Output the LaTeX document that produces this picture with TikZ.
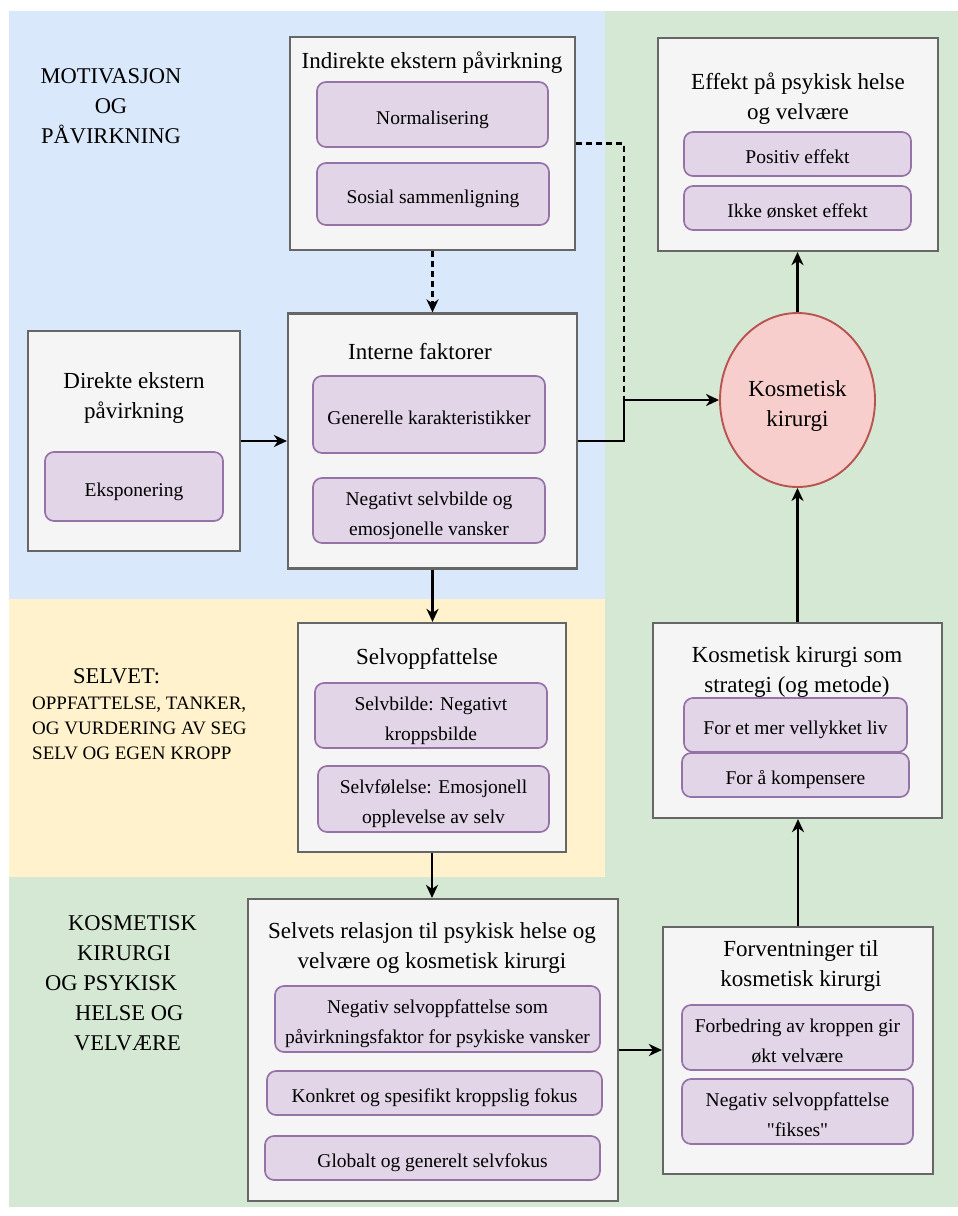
\documentclass[tikz,border=0pt]{standalone}
\usepackage{fontspec}
\setmainfont{Liberation Serif}
\newfontfamily\rawserif{Liberation Serif}
\usetikzlibrary{arrows.meta,shapes.geometric}
\definecolor{bgblue}{HTML}{DAE8FC}
\definecolor{bggreen}{HTML}{D5E8D4}
\definecolor{bgyellow}{HTML}{FFF2CC}
\definecolor{boxfill}{HTML}{F5F5F5}
\definecolor{boxline}{HTML}{666666}
\definecolor{itemfill}{HTML}{E1D5E7}
\definecolor{itemline}{HTML}{9673A6}
\definecolor{surgfill}{HTML}{F8CECC}
\definecolor{surgline}{HTML}{B85450}
\begin{document}
\begin{tikzpicture}[x=1pt,y=-1pt,
  gbox/.style 2 args={draw=boxline,fill=boxfill,line width=2.2pt,inner sep=0pt,minimum width=#1,minimum height=#2},
  ibox/.style 2 args={draw=itemline,fill=itemfill,line width=1.7pt,rounded corners=9pt,inner sep=0pt,minimum width=#1,minimum height=#2,align=center,font=\fontsize{19.5}{30}\selectfont},
  ione/.style={text height=19pt,text depth=0pt},
  itwo/.style={text height=49pt,text depth=0pt},
  title/.style={align=center,inner sep=0pt,font=\fontsize{23}{30}\selectfont},
  zone/.style={align=center,inner sep=0pt,font=\fontsize{22.5}{30}\selectfont},
  link/.style={line width=2.2pt,-{Stealth[length=13pt,width=12pt,inset=4pt]}},
  dashline/.style={line width=2.2pt,dash pattern=on 6pt off 4pt}]
\useasboundingbox (0,0) rectangle (958,1216);
\fill[bggreen] (9,11) rectangle (958,1207);
\fill[bgblue] (9,11) rectangle (605,599);
\fill[bgyellow] (9,599) rectangle (605,877);

\node[zone] (motiv) at (111,106) {MOTIVASJON\\OG\\PÅVIRKNING};
\node[zone,anchor=west] (selvetHead) at (73,676) {SELVET:};
\node[align=left,anchor=north west,inner sep=0pt,font=\fontsize{19}{25}\selectfont] (selvetText) at (32,697) {OPPFATTELSE, TANKER,\\OG VURDERING AV SEG\\SELV OG EGEN KROPP};
\node[zone,align=left,anchor=north west] (kosmzone) at (45,915) {\hspace*{23pt}KOSMETISK\\\hspace*{32pt}KIRURGI\\OG PSYKISK\\\hspace*{30pt}HELSE OG\\\hspace*{29pt}VELVÆRE};

\node[gbox={285}{213}] (indirekte) at (432.5,143.5) {};
\node[title] (tIndirekte) at (432,63) {Indirekte ekstern påvirkning};
\node[ibox={231}{65},ione] (normal) at (432.5,114.5) {Normalisering};
\node[ibox={232}{62},ione] (sosial) at (433,194) {Sosial sammenligning};

\node[gbox={280}{213}] (effekt) at (798,144.5) {};
\node[title] (tEffekt) at (798,99) {Effekt på psykisk helse\\og velvære};
\node[ibox={227}{44},ione] (positiv) at (797.5,154) {Positiv effekt};
\node[ibox={227}{44},ione] (ikke) at (797.5,208) {Ikke ønsket effekt};

\node[gbox={212}{220}] (direkte) at (134,441) {};
\node[title] (tDirekte) at (134,398) {Direkte ekstern\\påvirkning};
\node[ibox={178}{69},ione] (ekspo) at (134,486.5) {Eksponering};

\node[gbox={289}{255}] (interne) at (432.5,441) {};
\node[title] (tInterne) at (420,352) {Interne faktorer};
\node[ibox={232}{77},ione] (generelle) at (429,414.5) {Generelle karakteristikker};
\node[ibox={232}{65},itwo] (negselv) at (429,510.5) {Negativt selvbilde og\\emosjonelle vansker};

\node[ellipse,draw=surgline,fill=surgfill,line width=1.9pt,minimum width=155,minimum height=174,align=center,text height=53pt,text depth=0pt,font=\fontsize{23}{30}\selectfont] (kirurgi) at (797.5,400) {Kosmetisk\\kirurgi};

\node[gbox={268}{229}] (selvopp) at (432,737.5) {};
\node[title] (tSelvopp) at (427,659) {Selvoppfattelse};
\node[ibox={232}{65},itwo] (selvbilde) at (431,715.5) {Selvbilde: Negativt\\kroppsbilde};
\node[ibox={231}{66},itwo] (selvfol) at (433.5,799) {Selvfølelse: Emosjonell\\opplevelse av selv};

\node[gbox={289}{195}] (strategi) at (797.5,720.5) {};
\node[title] (tStrategi) at (797,672) {Kosmetisk kirurgi som\\strategi (og metode)};
\node[ibox={223}{54},ione] (liv) at (795.5,725) {For et mer vellykket liv};
\node[ibox={227}{44},ione] (kompens) at (795.5,775) {For å kompensere};

\node[gbox={370}{302}] (relasjon) at (433,1050) {};
\node[title] (tRelasjon) at (432,948) {Selvets relasjon til psykisk helse og\\velvære og kosmetisk kirurgi};
\node[ibox={325}{66},itwo] (negfaktor) at (437.5,1019) {Negativ selvoppfattelse som\\påvirkningsfaktor for psykiske vansker};
\node[ibox={335}{44},ione] (konkret) at (434.5,1093) {Konkret og spesifikt kroppslig fokus};
\node[ibox={335}{44},ione] (globalt) at (432.5,1158) {Globalt og generelt selvfokus};

\node[gbox={270}{247}] (forventn) at (798,1050.5) {};
\node[title] (tForventn) at (801,966) {Forventninger til\\kosmetisk kirurgi};
\node[ibox={231}{65},itwo] (forbedr) at (797.5,1037.5) {Forbedring av kroppen gir\\økt velvære};
\node[ibox={231}{65},itwo] (fikses) at (797.5,1111.5) {Negativ selvoppfattelse\\{\rawserif"}fikses{\rawserif"}};

\coordinate (knee) at (624,400);
\draw[link,dashline] (indirekte.south) -- (indirekte.south |- interne.north);
\draw[dashline] (indirekte.east) -| (knee);
\draw[link] (interne.east) -| (knee) -- (kirurgi.west);
\draw[link] (direkte.east) -- (interne.west);
\draw[link] (interne.south) -- (interne.south |- selvopp.north);
\draw[link] (selvopp.south) -- (selvopp.south |- relasjon.north);
\draw[link] (relasjon.east) -- (relasjon.east -| forventn.west);
\draw[link] (forventn.north) -- (forventn.north |- strategi.south);
\draw[link] (strategi.north) -- (strategi.north |- kirurgi.south);
\draw[link] (kirurgi.north) -- (kirurgi.north |- effekt.south);
\end{tikzpicture}
\end{document}
